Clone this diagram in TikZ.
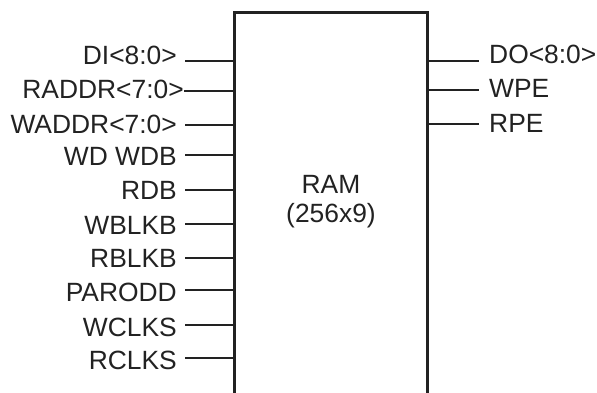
\documentclass[tikz,border=0pt]{standalone}
\usepackage{fontspec}
\setmainfont{Liberation Sans}
\definecolor{ink}{HTML}{222222}
\begin{document}
\begin{tikzpicture}[x=1pt,y=-1pt,
  pin/.style={draw=ink,line width=2.9pt},
  lbl/.style={inner sep=0pt,font=\fontsize{26.4}{28}\selectfont,text=ink},
  llbl/.style={lbl,anchor=base east},
  rlbl/.style={lbl,anchor=base west}]
\useasboundingbox (0,0) rectangle (597,393);
% RAM block (open at bottom)
\node[minimum width=192pt,minimum height=380pt,inner sep=0pt] (ram) at (331,203) {};
\draw[pin,line cap=butt] (ram.south west) -- (ram.north west) -- (ram.north east) -- (ram.south east);
\node[lbl,anchor=base] (t1) at (331,193.5) {RAM};
\node[lbl,anchor=base] (t2) at (331,222) {(256x9)};
% left pins
\foreach \n/\ly/\sx in {di/61/185, ra/91/184, wa/125/185, wd/155/185, rdb/190/185,
  wbl/224/185, rbl/258/185, par/290/185, wcl/325/185, rcl/358/185}{
  \coordinate (\n) at (\sx,\ly);
  \draw[pin] (\n) -- (\n -| ram.west);
}
\node[llbl] (ldi) at (177,64.3) {DI<8:0>};
\node[llbl] (lra) at (184,98.3) {RADDR<7:0>};
\node[llbl] (lwa) at (177,133.3) {WADDR<7:0>};
\node[llbl] (lwd) at (177,165.7) {WD WDB};
\node[llbl] (lrdb) at (177,199.3) {RDB};
\node[llbl] (lwbl) at (177,234) {WBLKB};
\node[llbl] (lrbl) at (177,267.3) {RBLKB};
\node[llbl] (lpar) at (177,301) {PARODD};
\node[llbl] (lwcl) at (177,336) {WCLKS};
\node[llbl] (lrcl) at (177,369) {RCLKS};
% right pins
\foreach \n/\ly in {do/61,wpe/90,rpe/124}{
  \coordinate (\n) at (479,\ly);
  \draw[pin] (\n -| ram.east) -- (\n);
}
\node[rlbl] (ldo) at (489,64) {DO<8:0>};
\node[rlbl] (lwpe) at (489,98) {WPE};
\node[rlbl] (lrpe) at (489,132) {RPE};
\end{tikzpicture}
\end{document}
